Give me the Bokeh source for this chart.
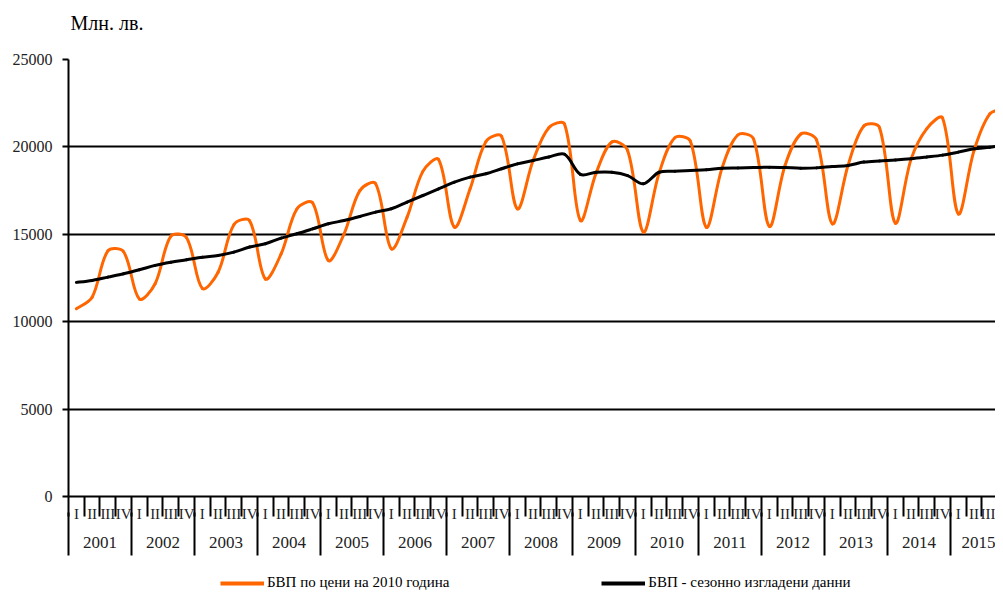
import math
from bokeh.plotting import figure
from bokeh.layouts import column
from bokeh.models import Range1d, FixedTicker, LinearAxis, Legend, LegendItem, ColumnDataSource, Title
from bokeh.embed import file_html
from bokeh.resources import INLINE

years = ["2001", "2002", "2003", "2004", "2005", "2006", "2007", "2008",
         "2009", "2010", "2011", "2012", "2013", "2014", "2015"]
quarter_labels = ["I", "II", "III", "IV"]

gdp_2010_prices = [
    10740, 11400, 14050, 14000,
    11300, 12170, 14900, 14800,
    11900, 12830, 15550, 15780,
    12450, 13880, 16450, 16800,
    13500, 15030, 17500, 17900,
    14170, 15980, 18600, 19280,
    15410, 17600, 20300, 20600,
    16460, 19220, 21100, 21300,
    15790, 18500, 20280, 19800,
    15120, 18500, 20520, 20300,
    15400, 18800, 20680, 20450,
    15450, 18950, 20740, 20400,
    15600, 18950, 21200, 21100,
    15640, 19300, 21050, 21650,
    16170, 19800, 21890, 22200,
]

gdp_seasonally_adjusted = [
    12250, 12360, 12550, 12740,
    12970, 13220, 13400, 13540,
    13690, 13790, 13980, 14270,
    14460, 14780, 15030, 15310,
    15600, 15790, 16020, 16270,
    16460, 16840, 17220, 17600,
    17980, 18270, 18460, 18750,
    19030, 19220, 19420, 19580,
    18430, 18550, 18550, 18360,
    17890, 18550, 18610, 18650,
    18690, 18780, 18800, 18820,
    18840, 18820, 18780, 18800,
    18880, 18940, 19130, 19200,
    19250, 19320, 19420, 19530,
    19700, 19890, 19980, 20120,
]

y_ticks = [0, 5000, 10000, 15000, 20000, 25000]

label_orange = "БВП по цени на 2010 година"
label_black = "БВП - сезонно изгладени данни"
unit_title = "Млн. лв."

ORANGE = "#FF6600"
FONT = "Liberation Serif"
n = len(gdp_2010_prices)
x_end = 58.86
y_end = 25000
xs = [i + 0.5 for i in range(n)]

W, H_MAIN, H_LEG = 995, 567, 24
B_LEFT, B_TOP, B_BOTTOM = 68, 59, 71
PX_X = (W - B_LEFT) / x_end          # pixels per quarter
PX_Y = (H_MAIN - B_TOP - B_BOTTOM) / y_end  # pixels per value unit


def bezier_source(xv, yv):
    """Smoothed line: Bezier segments with chord-length weighted tangents."""
    m = len(xv)
    def dist(i, j):
        return math.hypot((xv[j] - xv[i]) * PX_X, (yv[j] - yv[i]) * PX_Y)
    d = dict(x0=[], y0=[], x1=[], y1=[], cx0=[], cy0=[], cx1=[], cy1=[])
    for i in range(m - 1):
        a = max(i - 1, 0)
        b = min(i + 2, m - 1)
        d_prev = dist(a, i)
        d_cur = dist(i, i + 1)
        d_next = dist(i + 1, b)
        f0 = d_cur / (3.0 * (d_prev + d_cur)) if d_prev > 0 else 1.0 / 6.0
        f1 = d_cur / (3.0 * (d_cur + d_next)) if d_next > 0 else 1.0 / 6.0
        d["x0"].append(xv[i]); d["y0"].append(yv[i])
        d["x1"].append(xv[i + 1]); d["y1"].append(yv[i + 1])
        d["cx0"].append(xv[i] + (xv[i + 1] - xv[a]) * f0)
        d["cy0"].append(yv[i] + (yv[i + 1] - yv[a]) * f0)
        d["cx1"].append(xv[i + 1] - (xv[b] - xv[i]) * f1)
        d["cy1"].append(yv[i + 1] - (yv[b] - yv[i]) * f1)
    return ColumnDataSource(d)


p = figure(width=W, height=H_MAIN, x_range=Range1d(0, x_end), y_range=Range1d(0, y_end),
           output_backend="svg", toolbar_location=None,
           min_border_left=B_LEFT, min_border_right=0, min_border_top=B_TOP,
           min_border_bottom=B_BOTTOM)
p.outline_line_color = None
p.background_fill_color = "white"

# title (outermost) with a spacer between it and the plot area
p.title.text = unit_title
p.title.align = "left"
p.title.offset = 2
p.title.standoff = 4
p.title.text_font = FONT
p.title.text_font_size = "20px"
p.title.text_font_style = "normal"
p.title.text_color = "black"
p.add_layout(Title(text=" ", text_font_size="10px", standoff=11), "above")

# y axis
p.yaxis.ticker = FixedTicker(ticks=y_ticks)
p.yaxis.major_tick_out = 6
p.yaxis.major_tick_in = 0
p.yaxis.minor_tick_line_color = None
p.yaxis.axis_line_width = 2
p.yaxis.axis_line_color = "black"
p.yaxis.major_tick_line_width = 2
p.yaxis.major_tick_line_color = "black"
p.yaxis.major_label_standoff = 10
p.yaxis.major_label_text_font = FONT
p.yaxis.major_label_text_font_size = "16px"
p.yaxis.major_label_text_color = "#222222"

p.ygrid.ticker = FixedTicker(ticks=y_ticks)
p.ygrid.grid_line_color = "black"
p.ygrid.grid_line_width = 2
p.xgrid.grid_line_color = None

# x axis: quarters
q_ticks = [c for c in xs if c <= x_end]
q_over = {c: quarter_labels[i % 4] for i, c in enumerate(q_ticks)}
xa = p.xaxis[0]
xa.ticker = FixedTicker(ticks=q_ticks, minor_ticks=list(range(0, n)))
xa.major_label_overrides = q_over
xa.major_tick_out = 0
xa.major_tick_in = 0
xa.major_tick_line_color = None
xa.minor_tick_out = 20
xa.minor_tick_in = 0
xa.minor_tick_line_width = 2
xa.minor_tick_line_color = "black"
xa.axis_line_width = 2
xa.axis_line_color = "black"
xa.major_label_standoff = -11
xa.major_label_text_font = FONT
xa.major_label_text_font_size = "15px"
xa.major_label_text_color = "#222222"

# x axis: years
y_centers = [4 * k + 2 for k in range(len(years))]
y_bounds = [4 * k for k in range(len(years))]
ya = LinearAxis(ticker=FixedTicker(ticks=y_centers, minor_ticks=y_bounds),
                major_label_overrides={c: years[k] for k, c in enumerate(y_centers)})
ya.axis_line_color = None
ya.major_tick_out = 0
ya.major_tick_in = 0
ya.major_tick_line_color = None
ya.minor_tick_in = 12
ya.minor_tick_out = 31
ya.minor_tick_line_width = 2
ya.minor_tick_line_color = "black"
ya.major_label_standoff = -19
ya.major_label_text_font = FONT
ya.major_label_text_font_size = "17px"
ya.major_label_text_color = "#222222"
p.add_layout(ya, "below")

# series
p.bezier(x0="x0", y0="y0", x1="x1", y1="y1", cx0="cx0", cy0="cy0", cx1="cx1", cy1="cy1",
         source=bezier_source(xs, gdp_2010_prices), line_color=ORANGE, line_width=3,
         line_cap="round")
p.bezier(x0="x0", y0="y0", x1="x1", y1="y1", cx0="cx0", cy0="cy0", cx1="cx1", cy1="cy1",
         source=bezier_source(xs, gdp_seasonally_adjusted), line_color="black", line_width=3,
         line_cap="round")

# legend strip below the chart (its lines hold the series but lie outside its view)
lg = figure(width=W, height=H_LEG, x_range=Range1d(0, W), y_range=Range1d(0, 1),
            output_backend="svg", toolbar_location=None, x_axis_type=None, y_axis_type=None,
            min_border_left=0, min_border_right=0, min_border_top=0, min_border_bottom=0)
lg.outline_line_color = None
k1 = lg.line(x=xs, y=gdp_2010_prices, line_color=ORANGE, line_width=4)
k2 = lg.line(x=xs, y=gdp_seasonally_adjusted, line_color="black", line_width=4)
legend = Legend(items=[LegendItem(label=label_orange, renderers=[k1]),
                       LegendItem(label=label_black, renderers=[k2])],
                orientation="horizontal", location=(152, 0),
                glyph_width=44, glyph_height=16, label_height=16, label_standoff=3, spacing=152,
                padding=0, margin=0, border_line_color=None, background_fill_alpha=0,
                label_text_font=FONT, label_text_font_size="15px", label_text_color="black")
lg.add_layout(legend)

open("out.html", "w").write(file_html(column(p, lg, spacing=0), INLINE))
